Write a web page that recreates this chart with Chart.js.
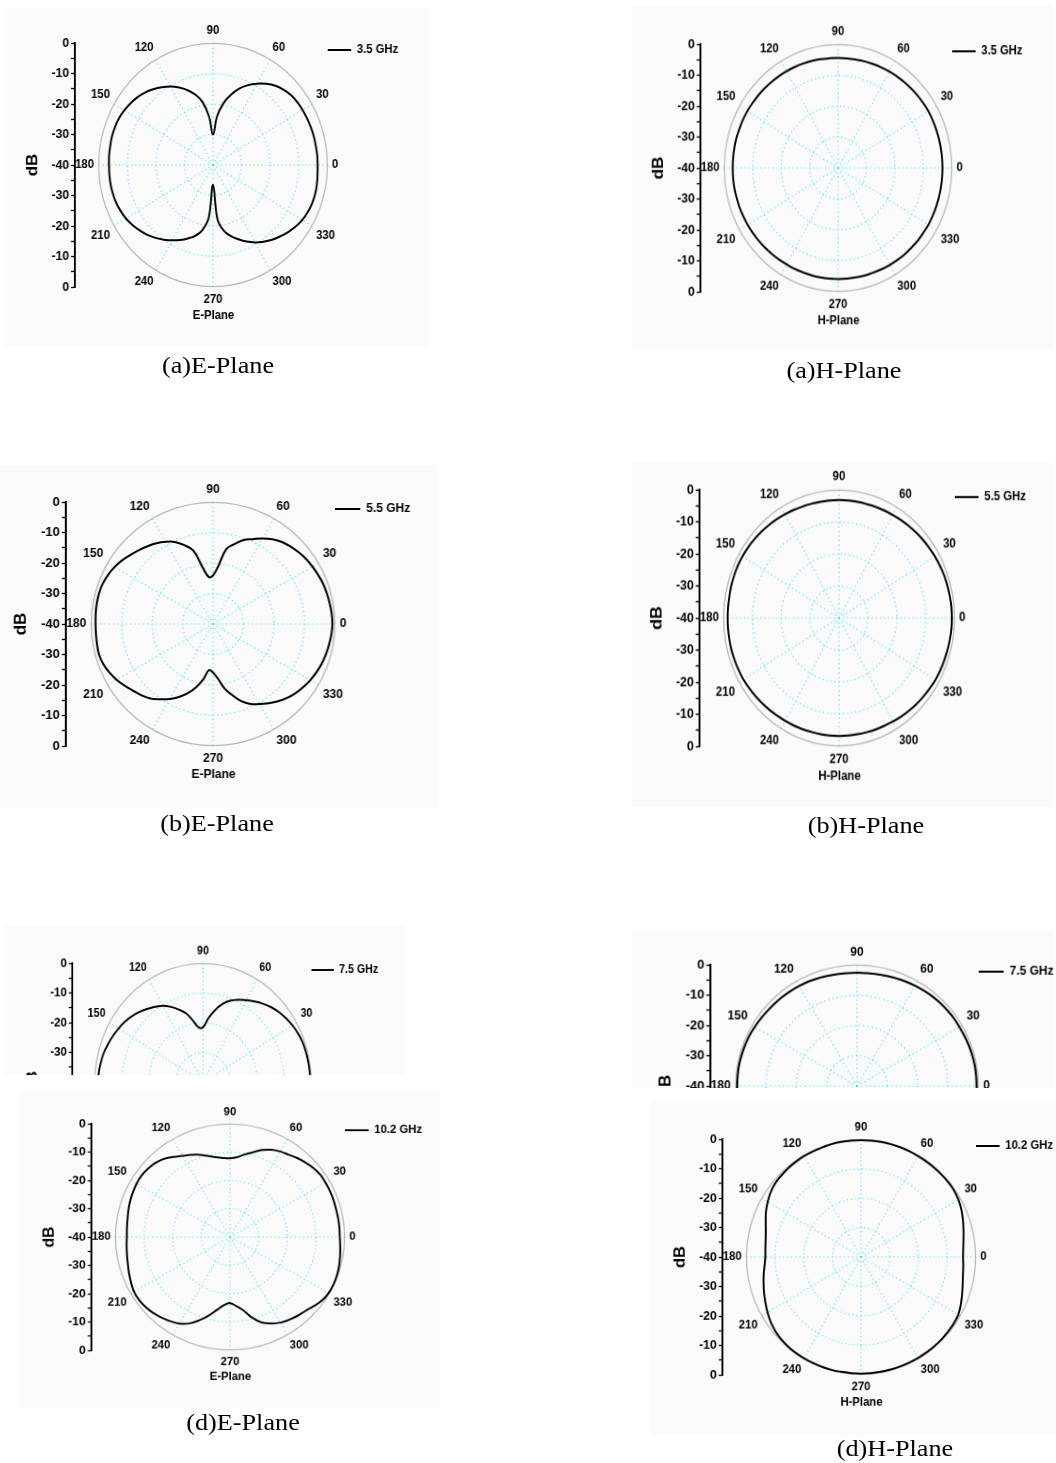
<!DOCTYPE html>
<html><head><meta charset="utf-8">
<script src="https://cdn.jsdelivr.net/npm/chart.js@4.4.1/dist/chart.umd.min.js"></script>
<style>
html,body{margin:0;padding:0;background:#fff;}
body{width:1056px;height:1463px;position:relative;overflow:hidden;}
.bg{position:absolute;background:#fafafa;}
.panel{position:absolute;width:460px;height:380px;}
.panel canvas{position:absolute;}
.clip{position:absolute;left:0;top:0;width:1056px;overflow:hidden;}
.cap{position:absolute;font-family:'Liberation Serif','Times New Roman',serif;font-size:23px;color:#000;white-space:nowrap;transform:translate(-50%,-50%) scaleX(1.14);}
</style></head><body>
<script>
// ---- data ----
const angles = [0,5,10,15,20,25,30,35,40,45,50,55,60,65,70,75,80,85,
  90,95,100,105,110,115,120,125,130,135,140,145,150,155,160,165,170,175,
  180,185,190,195,200,205,210,215,220,225,230,235,240,245,250,255,260,265,
  270,275,280,285,290,295,300,305,310,315,320,325,330,335,340,345,350,355];
const angleTickLabels = ['0','30','60','90','120','150','180','210','240','270','300','330'];
const dbTickValues = [0,-10,-20,-30,-40];
const freqLabels = ['3.5 GHz','5.5 GHz','7.5 GHz','10.2 GHz'];

const ePlane35 = [-3.4,-3.4,-3.5,-3.5,-3.6,-3.7,-3.8,-4.0,-4.3,-5.0,-6.0,-7.4,-9.1,-11.0,-13.3,-16.2,-19.5,-24.0,
  -30.0,-24.0,-19.0,-16.0,-13.8,-11.9,-10.2,-8.8,-7.5,-6.3,-5.4,-4.7,-4.1,-3.7,-3.5,-3.4,-3.5,-3.5,
  -3.6,-3.6,-3.6,-3.7,-3.9,-4.3,-4.8,-5.6,-6.5,-7.5,-8.7,-10.0,-11.4,-12.8,-14.3,-15.9,-18.2,-22.5,
  -33.4,-22.0,-18.0,-15.8,-14.0,-12.2,-10.6,-9.2,-7.9,-6.8,-5.7,-4.7,-3.9,-3.4,-3.1,-3.0,-3.1,-3.3];
const hPlane35 = [-3.3,-3.3,-3.3,-3.3,-3.3,-3.3,-3.3,-3.4,-3.5,-3.6,-3.7,-3.8,-3.9,-4.0,-4.1,-4.2,-4.3,-4.3,
  -4.3,-4.3,-4.2,-4.1,-4.0,-3.9,-3.8,-3.7,-3.6,-3.5,-3.4,-3.3,-3.2,-3.1,-3.1,-3.0,-3.0,-3.0,
  -3.0,-3.0,-3.0,-3.1,-3.1,-3.2,-3.3,-3.4,-3.5,-3.6,-3.7,-3.8,-3.9,-3.9,-4.0,-4.0,-4.0,-4.0,
  -4.0,-4.0,-4.0,-3.9,-3.9,-3.8,-3.7,-3.6,-3.5,-3.5,-3.4,-3.4,-3.3,-3.3,-3.3,-3.3,-3.3,-3.3];
const ePlane55 = [-0.8,-0.9,-1.1,-1.3,-1.5,-1.9,-2.3,-2.7,-3.3,-4.0,-4.8,-6.0,-7.5,-9.2,-10.6,-12.8,-15.0,-21.0,
  -24.0,-24.5,-21.5,-15.0,-12.4,-10.2,-8.8,-7.6,-6.6,-5.6,-4.6,-3.5,-2.6,-1.9,-1.4,-1.2,-1.2,-1.3,
  -1.4,-1.4,-1.3,-1.2,-1.6,-2.4,-3.4,-4.6,-5.8,-6.8,-8.0,-9.8,-11.5,-13.5,-15.8,-18.5,-21.5,-24.8,
  -24.0,-22.0,-18.5,-15.8,-13.0,-11.0,-9.6,-8.2,-6.8,-5.6,-4.6,-3.8,-3.1,-2.5,-2.0,-1.6,-1.3,-1.0];
const hPlane55 = [-0.9,-0.9,-1.0,-1.1,-1.2,-1.4,-1.6,-1.8,-2.0,-2.2,-2.4,-2.6,-2.8,-2.9,-3.0,-3.1,-3.1,-3.1,
  -3.1,-3.1,-3.1,-3.0,-2.9,-2.7,-2.5,-2.3,-2.1,-1.9,-1.7,-1.5,-1.4,-1.3,-1.3,-1.3,-1.4,-1.4,
  -1.4,-1.4,-1.4,-1.4,-1.5,-1.6,-1.7,-1.9,-2.1,-2.3,-2.5,-2.7,-2.8,-2.9,-3.0,-3.1,-3.1,-3.1,
  -3.1,-3.1,-3.1,-3.0,-2.9,-2.8,-2.6,-2.4,-2.2,-2.0,-1.8,-1.6,-1.4,-1.3,-1.2,-1.1,-1.0,-0.9];
const ePlane75 = [-0.3,-0.4,-0.5,-0.6,-0.8,-1.2,-1.8,-2.5,-3.3,-4.3,-5.5,-6.8,-8.1,-9.3,-10.8,-12.8,-15.5,-18.5,
  -21.5,-21.5,-19.0,-16.0,-14.0,-12.0,-10.3,-9.0,-7.8,-6.6,-5.5,-4.6,-3.9,-3.2,-2.6,-2.0,-1.6,-1.3,
  -1.2,-1.2,-1.4,-1.8,-2.4,-3.2,-4.2,-5.3,-6.5,-7.8,-9.0,-10.3,-11.5,-13.0,-15.0,-17.5,-20.0,-22.0,
  -22.0,-20.0,-17.0,-14.5,-12.5,-11.0,-9.5,-8.0,-6.6,-5.3,-4.0,-2.9,-2.0,-1.3,-0.8,-0.5,-0.3,-0.3];
const hPlane75 = [-0.6,-0.6,-0.6,-0.7,-0.8,-0.9,-1.0,-1.0,-1.1,-1.2,-1.3,-1.5,-1.7,-1.9,-2.1,-2.3,-2.4,-2.5,
  -2.5,-2.5,-2.4,-2.3,-2.1,-1.9,-1.8,-1.7,-1.6,-1.5,-1.4,-1.2,-1.0,-0.8,-0.7,-0.6,-0.5,-0.5,
  -0.5,-0.5,-0.6,-0.7,-0.8,-1.0,-1.2,-1.4,-1.6,-1.8,-2.0,-2.2,-2.4,-2.6,-2.7,-2.8,-2.8,-2.8,
  -2.8,-2.8,-2.7,-2.6,-2.4,-2.2,-2.0,-1.8,-1.6,-1.4,-1.2,-1.0,-0.9,-0.8,-0.7,-0.7,-0.6,-0.6];
const ePlane102 = [-1.7,-1.7,-1.7,-1.7,-1.6,-1.5,-1.5,-1.5,-2.0,-2.7,-3.5,-4.4,-5.0,-5.9,-7.2,-8.9,-10.3,-11.6,
  -12.1,-11.9,-11.3,-10.3,-9.0,-7.9,-6.8,-5.4,-3.9,-3.0,-2.5,-2.2,-2.3,-2.6,-2.9,-3.3,-3.7,-3.9,
  -4.0,-3.8,-3.5,-3.1,-2.5,-1.9,-1.3,-1.2,-1.5,-2.0,-2.8,-3.6,-4.6,-6.2,-8.6,-11.2,-13.8,-15.8,
  -16.6,-15.5,-13.7,-10.5,-7.8,-6.2,-5.0,-4.2,-3.5,-2.9,-1.9,-0.8,-0.3,-0.2,-0.3,-0.6,-1.0,-1.4];
const hPlane102 = [-4.4,-4.2,-3.7,-3.0,-2.2,-1.4,-0.8,-0.4,-0.3,-0.3,-0.3,-0.3,-0.3,-0.2,-0.2,-0.2,-0.2,-0.2,
  -0.2,-0.2,-0.2,-0.2,-0.3,-0.3,-0.3,-0.4,-0.5,-0.7,-0.9,-1.5,-2.4,-3.4,-4.6,-5.6,-6.2,-6.5,
  -6.6,-6.2,-5.5,-4.8,-4.0,-3.2,-2.3,-1.5,-0.9,-0.5,-0.3,-0.2,-0.2,-0.2,-0.2,-0.2,-0.3,-0.3,
  -0.3,-0.3,-0.3,-0.3,-0.3,-0.3,-0.3,-0.3,-0.3,-0.3,-0.4,-0.5,-0.8,-1.6,-2.5,-3.3,-3.9,-4.2];

// ---- layout ----
const FONT = "'Liberation Sans', Arial, Helvetica, sans-serif";
Chart.defaults.font.family = FONT;
Chart.defaults.color = '#000';
const R0 = 122, CCX = 210, CCY = 180;
const CYAN = '#2fe2f0', GREY = '#b9b9b9';

const panels = [
  {freq:freqLabels[0], plane:'E-Plane', values:ePlane35, cx:213.3, cy:165.0, Rx:114.7, Ry:122.0, caption:'(a)E-Plane', capX:218, capY:366, bg:[5,8,423,338]},
  {freq:freqLabels[0], plane:'H-Plane', values:hPlane35, cx:837.5, cy:167.8, Rx:114.2, Ry:123.8, caption:'(a)H-Plane', capX:844, capY:371, bg:[632,5,422,345]},
  {freq:freqLabels[1], plane:'E-Plane', values:ePlane55, cx:212.8, cy:623.7, Rx:122.2, Ry:122.0, caption:'(b)E-Plane', capX:217, capY:824, bg:[0,465,438,343]},
  {freq:freqLabels[1], plane:'H-Plane', values:hPlane55, cx:839.2, cy:618.3, Rx:115.8, Ry:128.3, caption:'(b)H-Plane', capX:866, capY:826, bg:[632,462,422,345]},
  {freq:freqLabels[2], plane:'E-Plane', values:ePlane75, cx:203.3, cy:1082.0, Rx:108.5, Ry:118.8, clip:1075, bg:[5,925,400,150]},
  {freq:freqLabels[2], plane:'H-Plane', values:hPlane75, cx:856.5, cy:1085.7, Rx:121.7, Ry:121.3, clip:1088, bg:[632,930,422,158]},
  {freq:freqLabels[3], plane:'E-Plane', values:ePlane102, cx:230.0, cy:1236.7, Rx:115.0, Ry:113.3, caption:'(d)E-Plane', capX:242.5, capY:1423, bg:[20,1090,420,318]},
  {freq:freqLabels[3], plane:'H-Plane', values:hPlane102, cx:861.0, cy:1257.2, Rx:115.0, Ry:117.8, caption:'(d)H-Plane', capX:895, capY:1449, bg:[650,1100,406,335]}
];

function radarOrder(vals) {
  const labels = [], data = [];
  for (let k = 0; k < angles.length; k++) {
    const a = (90 - angles[k] + 360) % 360;
    labels.push(String(a));
    data.push(vals[angles.indexOf(a)]);
  }
  return {labels, data};
}
const isMajor = lab => angleTickLabels.includes(lab);

function radarConfig(p, rd) {
  return {
    type: 'radar',
    data: {labels: rd.labels, datasets: [{label: p.freq, data: rd.data, borderColor: '#000', backgroundColor: 'transparent',
      borderWidth: 2, pointRadius: 0, pointHoverRadius: 0, fill: false, tension: 0.4}]},
    options: {
      responsive: false, maintainAspectRatio: false, animation: false, devicePixelRatio: 1, events: [],
      layout: {padding: {left: 9, right: 0, top: 0, bottom: 0}},
      plugins: {legend: {display: false}, tooltip: {enabled: false},
        title: {display: true, text: p.plane, position: 'bottom', color: '#000',
          font: {family: FONT, size: 12, weight: 'bold'}, padding: {top: 1, bottom: 2}}},
      scales: {r: {
        min: -40, max: 0, startAngle: 0,
        ticks: {display: false, stepSize: 10},
        grid: {circular: true,
          color: c => (c.tick && c.tick.value === 0) ? GREY : CYAN,
          lineWidth: c => (c.tick && c.tick.value === 0) ? 1.3 : 1.1},
        border: {dash: c => (c.tick && c.tick.value === 0) ? [] : [1.1, 3.2]},
        angleLines: {color: c => isMajor(rd.labels[c.index]) ? CYAN : 'rgba(0,0,0,0)',
          lineWidth: c => isMajor(rd.labels[c.index]) ? 1.1 : 0, borderDash: [1.1, 3.2]},
        pointLabels: {callback: lab => isMajor(lab) ? lab : '', color: '#000',
          font: {family: FONT, size: 12, weight: 'bold'},
          padding: c => (rd.labels[c.index] === '90' || rd.labels[c.index] === '270') ? 6 : 5}
      }}
    }
  };
}

function axisConfig() {
  return {
    type: 'line',
    data: {labels: [], datasets: []},
    options: {
      responsive: false, maintainAspectRatio: false, animation: false, devicePixelRatio: 1, events: [],
      layout: {padding: {top: 10, bottom: 10, left: 0, right: 0}},
      plugins: {legend: {display: false}, tooltip: {enabled: false}},
      scales: {
        x: {display: false},
        y: {type: 'linear', position: 'left', min: -40, max: 40,
          grid: {drawOnChartArea: false, drawTicks: true, tickLength: 4, color: '#000', tickColor: '#000', tickWidth: 1.3},
          border: {display: true, color: '#000', width: 2},
          ticks: {stepSize: 5, autoSkip: false, padding: 2, color: '#000',
            font: {family: FONT, size: 13, weight: 'bold'},
            callback: v => dbTickValues.includes(Math.abs(v) - 40) ? String(Math.abs(v) - 40) : ''},
          title: {display: true, text: 'dB', color: '#000', font: {family: FONT, size: 17, weight: 'bold'},
            padding: {top: 0, bottom: 11}}
        }
      }
    }
  };
}

function legendConfig(p) {
  return {
    type: 'line',
    data: {labels: [], datasets: [{label: p.freq, data: [], borderColor: '#000', backgroundColor: '#000', borderWidth: 2}]},
    options: {
      responsive: false, maintainAspectRatio: false, animation: false, devicePixelRatio: 1, events: [],
      layout: {padding: 0},
      scales: {x: {display: false}, y: {display: false}},
      plugins: {tooltip: {enabled: false},
        legend: {display: true, position: 'top', align: 'start',
          labels: {usePointStyle: true, pointStyle: 'line', pointStyleWidth: 25, boxHeight: 10, color: '#000',
            padding: 0, font: {family: FONT, size: 12, weight: 'bold'}}}}
    }
  };
}

function mkCanvas(host, w, h) {
  const cv = document.createElement('canvas');
  cv.width = w; cv.height = h; cv.style.width = w + 'px'; cv.style.height = h + 'px';
  host.appendChild(cv);
  return cv;
}

function buildPanel(p) {
  const bg = document.createElement('div');
  bg.className = 'bg';
  bg.style.left = p.bg[0] + 'px'; bg.style.top = p.bg[1] + 'px';
  bg.style.width = p.bg[2] + 'px'; bg.style.height = p.bg[3] + 'px';
  let parent = document.body;
  if (p.clip) {
    const clip = document.createElement('div');
    clip.className = 'clip';
    clip.style.height = p.clip + 'px';
    document.body.appendChild(clip);
    parent = clip;
  }
  parent.appendChild(bg);

  const host = document.createElement('div');
  host.className = 'panel';
  host.style.left = (p.cx - CCX) + 'px';
  host.style.top = (p.cy - CCY) + 'px';
  host.style.transformOrigin = CCX + 'px ' + CCY + 'px';
  host.style.transform = 'scale(' + (p.Rx / R0) + ',' + (p.Ry / R0) + ')';
  parent.appendChild(host);

  // radar
  const rd = radarOrder(p.values);
  let H = 2 * R0 + 58, W = H + 50;
  let cv = mkCanvas(host, W, H);
  let chart = null;
  for (let it = 0; it < 4; it++) {
    chart = new Chart(cv, radarConfig(p, rd));
    const d = R0 - chart.scales.r.drawingArea;
    if (Math.abs(d) < 0.6 || it === 3) break;
    chart.destroy();
    host.removeChild(cv);
    H = Math.round(H + 2 * d); W = Math.round(W + 2 * d);
    cv = mkCanvas(host, W, H);
  }
  const r = chart.scales.r;
  cv.style.left = (CCX - r.xCenter) + 'px';
  cv.style.top = (CCY - r.yCenter) + 'px';

  // dB axis
  const acv = mkCanvas(host, 110, 2 * R0 + 20);
  const ach = new Chart(acv, axisConfig());
  const y = ach.scales.y;
  acv.style.left = (CCX - 147 - y.right) + 'px';
  acv.style.top = (CCY - y.getPixelForValue(0)) + 'px';

  // legend
  const lcv = mkCanvas(host, 140, 26);
  const lch = new Chart(lcv, legendConfig(p));
  const hb = lch.legend.legendHitBoxes[0];
  lcv.style.left = (CCX + 122 - hb.left) + 'px';
  lcv.style.top = (CCY - 115 - (hb.top + hb.height / 2)) + 'px';

  if (p.caption) {
    const c = document.createElement('div');
    c.className = 'cap';
    c.textContent = p.caption;
    c.style.left = p.capX + 'px';
    c.style.top = p.capY + 'px';
    document.body.appendChild(c);
  }
}

panels.forEach(buildPanel);
</script>
</body></html>
